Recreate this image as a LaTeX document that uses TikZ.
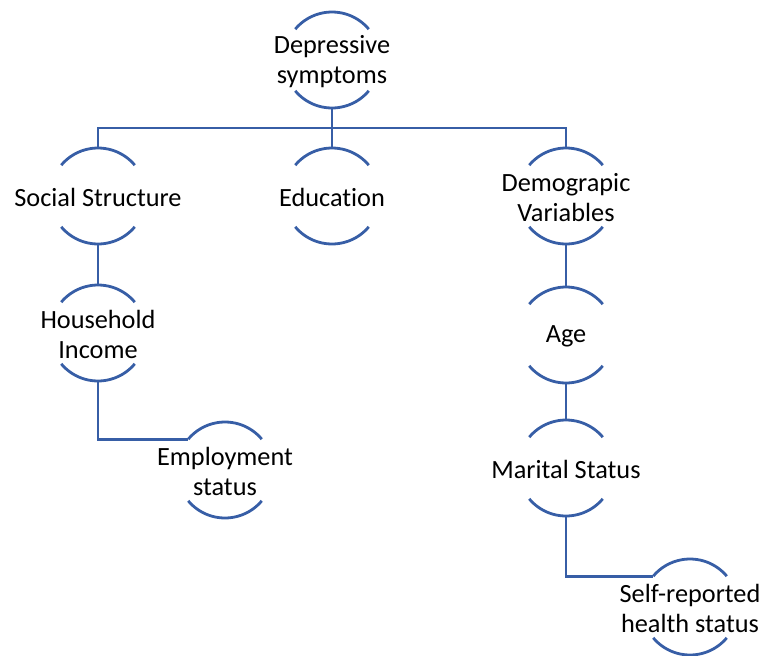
\documentclass[tikz,border=0pt]{standalone}
\usepackage{fontspec}
\setmainfont[Ligatures=NoCommon]{Carlito}
\definecolor{smartblue}{RGB}{55,94,166}
\tikzset{
  bubble/.style={circle, minimum size=96pt, inner sep=0pt, outer sep=0pt,
    label={[align=center, yshift=-1.5pt, font=\fontsize{26.3}{29.5}\selectfont]center:#1}},
  link/.style={draw=smartblue, line width=2.8pt}
}
\begin{document}
\begin{tikzpicture}[x=1pt,y=1pt]
  \useasboundingbox (0,0) rectangle (782,-656);
  \node[bubble={Depressive\\symptoms}] (dep) at (332,-60) {};
  \node[bubble={Social Structure}] (soc) at (98,-196) {};
  \node[bubble={Education}] (edu) at (332,-196) {};
  \node[bubble={Demograpic\\Variables}] (dem) at (566,-196) {};
  \node[bubble={Household\\Income}] (hh) at (98,-333) {};
  \node[bubble={Age}] (age) at (566,-335) {};
  \node[bubble={Employment\\status}] (emp) at (225,-470) {};
  \node[bubble={Marital Status}] (mar) at (566,-468) {};
  \node[bubble={Self-reported\\health status}] (self) at (690,-607) {};
  \foreach \n in {dep,soc,edu,dem,hh,age,emp,mar,self} {
    \draw[link] (\n.40) arc (40:140:48pt);
    \draw[link] (\n.220) arc (220:320:48pt);
  }
  \coordinate (bus) at (332,-128);
  \draw[link] (dep.south) -- (edu.north);
  \draw[link] (soc.north) |- (bus) -| (dem.north);
  \draw[link] (soc.south) -- (hh.north);
  \draw[link] (hh.south) |- (emp.140);
  \draw[link] (dem.south) -- (age.north);
  \draw[link] (age.south) -- (mar.north);
  \draw[link] (mar.south) |- (self.140);
\end{tikzpicture}
\end{document}
